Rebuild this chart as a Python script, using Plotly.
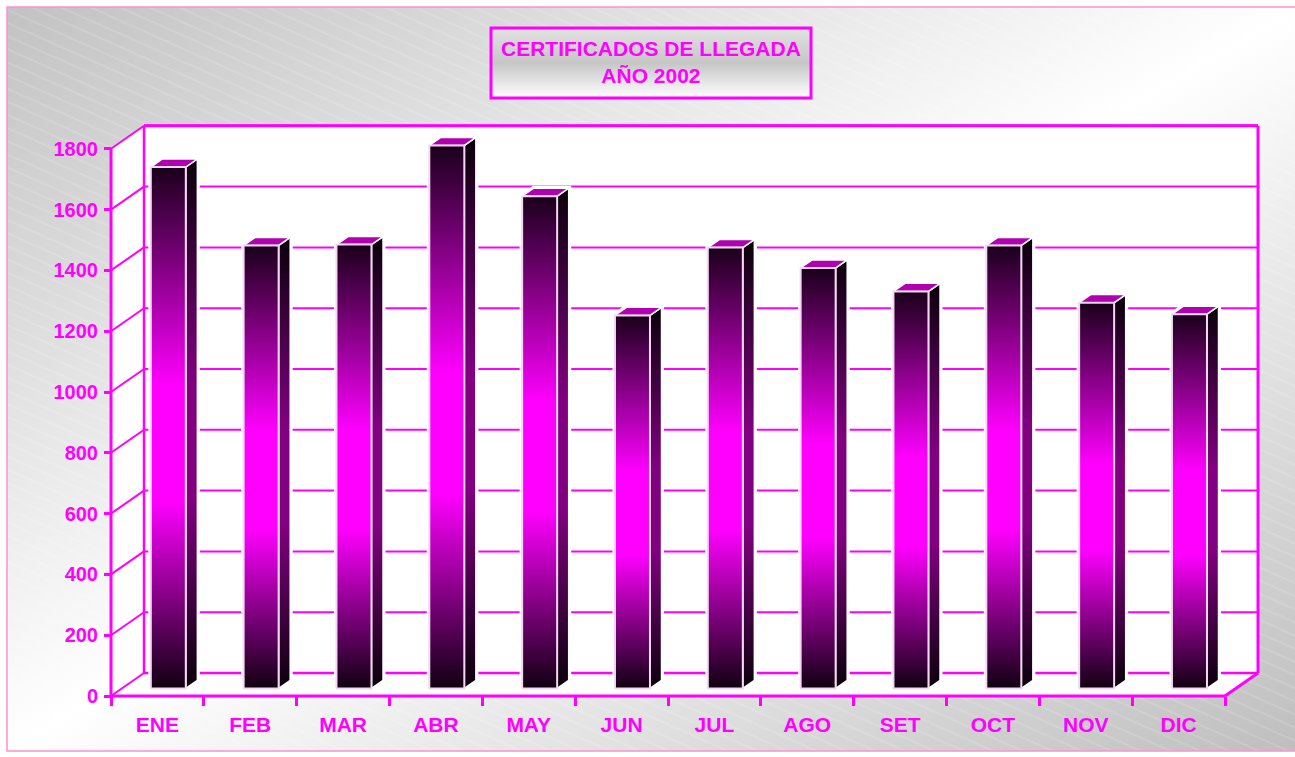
import base64
import plotly.graph_objects as go

# ---------------- data ----------------
months = ["ENE", "FEB", "MAR", "ABR", "MAY", "JUN", "JUL", "AGO", "SET", "OCT", "NOV", "DIC"]
values = [1715, 1457, 1460, 1786, 1619, 1227, 1450, 1383, 1306, 1457, 1269, 1231]
y_ticks = [0, 200, 400, 600, 800, 1000, 1200, 1400, 1600, 1800]
title_text = "CERTIFICADOS DE LLEGADA<br>AÑO 2002"

# ---------------- style / geometry ----------------
MAG = "#ff00ff"
W, H = 1295, 757
FONT = "Liberation Sans, Arial, sans-serif"

X0P, X12P = 111, 1225          # front-plane pixel x of category edges 0 and 12
Y0P, UY = 696, 0.304           # front-plane pixel y of value 0, px per unit
UX = (X12P - X0P) / 12.0
DX = 33 / UX                   # depth offset (x, data units)
DY = 23 / UY                   # depth offset (y, data units)
YTOP = y_ticks[-1]
NC = len(months)

PL, PR, PT, PB = 100, 1270, 112, 706   # plot area in pixels
xr = [(PL - X0P) / UX, (PR - X0P) / UX]
yr = [(Y0P - PB) / UY, (Y0P - PT) / UY]

def px(xp):
    return (xp - PL) / (PR - PL)

def py(yp):
    return (PB - yp) / (PB - PT)

# ---------------- background image (svg) ----------------
bg_svg = f'''<svg xmlns="http://www.w3.org/2000/svg" width="{W}" height="{H}" viewBox="0 0 {W} {H}" preserveAspectRatio="none">
<defs>
<linearGradient id="g" x1="0" y1="0" x2="1" y2="1">
<stop offset="0" stop-color="#c2c2c2"/>
<stop offset="0.5" stop-color="#ffffff"/>
<stop offset="1" stop-color="#bebebe"/>
</linearGradient>
<pattern id="p" patternUnits="userSpaceOnUse" width="200" height="12" patternTransform="rotate(24)">
<line x1="0" y1="6" x2="200" y2="6" stroke="#ffffff" stroke-opacity="0.3" stroke-width="0.8"/>
</pattern>
</defs>
<rect x="0" y="0" width="{W}" height="{H}" fill="#ffffff"/>
<rect x="7" y="7" width="{W}" height="{H - 13}" fill="url(#g)"/>
<rect x="7" y="7" width="{W}" height="{H - 13}" fill="url(#p)"/>
<rect x="7" y="7" width="{W + 10}" height="{H - 13}" fill="none" stroke="#ff8fd0" stroke-width="1.5"/>
</svg>'''
box_svg = '''<svg xmlns="http://www.w3.org/2000/svg" width="100" height="100" viewBox="0 0 100 100" preserveAspectRatio="none">
<defs><linearGradient id="b" x1="0" y1="0" x2="0" y2="1">
<stop offset="0" stop-color="#e2e2e2"/>
<stop offset="0.5" stop-color="#c6c6c6"/>
<stop offset="1" stop-color="#ffffff"/>
</linearGradient></defs>
<rect x="0" y="0" width="100" height="100" fill="url(#b)"/>
</svg>'''

def uri(s):
    return "data:image/svg+xml;base64," + base64.b64encode(s.encode("utf-8")).decode("ascii")

fig = go.Figure()

# ---------------- walls, grid, frame (shapes in data coords) ----------------
shapes = []
def poly(pts, fill, lw=0, lc=MAG):
    d = "M " + " L ".join(f"{x},{y}" for x, y in pts) + " Z"
    shapes.append(dict(type="path", path=d, xref="x", yref="y", fillcolor=fill,
                       line=dict(width=lw, color=lc), layer="below"))

def seg(x0, y0, x1, y1, w):
    shapes.append(dict(type="line", xref="x", yref="y", x0=x0, y0=y0, x1=x1, y1=y1,
                       line=dict(color=MAG, width=w), layer="below"))

poly([(0, 0), (DX, DY), (DX, YTOP + DY), (0, YTOP)], "#ffffff")
poly([(DX, DY), (NC + DX, DY), (NC + DX, YTOP + DY), (DX, YTOP + DY)], "#ffffff")
poly([(0, 0), (NC, 0), (NC + DX, DY), (DX, DY)], "#ffffff")
for v in y_ticks:
    seg(DX, v + DY, NC + DX, v + DY, 2.5 if v in (y_ticks[0], y_ticks[-1]) else 2)
    seg(0, v, DX, v + DY, 2)
seg(0, 0, 0, YTOP, 3)
seg(DX, DY, DX, YTOP + DY, 2.5)
seg(NC + DX, DY, NC + DX, YTOP + DY, 3)
seg(0, 0, NC, 0, 3)
seg(NC, 0, NC + DX, DY, 3)
seg(DX, YTOP + DY, NC + DX, YTOP + DY, 3)

# title box
shapes.append(dict(type="rect", xref="paper", yref="paper", x0=px(491), x1=px(811),
                   y0=py(98), y1=py(28), line=dict(color=MAG, width=3), layer="above"))

# ---------------- bars (pseudo-3D) ----------------
BF = 0.33                 # depth of bar front face
BD = 0.35                 # bar depth
HW = 17.5 / UX            # half width of bar front
ddx, ddy = BD * DX, BD * DY
front_cs = [[0, "#100010"], [0.36, "#ff00ff"], [0.58, "#ff00ff"], [1, "#1a001a"]]
side_cs = [[0, "#0a000a"], [0.36, "#800080"], [0.58, "#800080"], [1, "#0a000a"]]

def add_poly(pts, **kw):
    xs = [p[0] for p in pts] + [pts[0][0]]
    ys = [p[1] for p in pts] + [pts[0][1]]
    fig.add_trace(go.Scatter(x=xs, y=ys, mode="lines", fill="toself",
                             hoverinfo="skip", showlegend=False, **kw))

for i, v in enumerate(values):
    c = i + 0.5
    x0 = c - HW + BF * DX
    x1 = c + HW + BF * DX
    y0 = BF * DY
    y1 = v + BF * DY
    # white halo around silhouette
    add_poly([(x0, y0), (x1, y0), (x1 + ddx, y0 + ddy), (x1 + ddx, y1 + ddy),
              (x0 + ddx, y1 + ddy), (x0, y1)],
             fillcolor="#ffffff", line=dict(color="#ffffff", width=5))
    # side face
    add_poly([(x1, y0), (x1 + ddx, y0 + ddy), (x1 + ddx, y1 + ddy), (x1, y1)],
             fillgradient=dict(type="vertical", colorscale=side_cs),
             line=dict(color="#ffffff", width=1.5))
    # top face
    add_poly([(x0, y1), (x1, y1), (x1 + ddx, y1 + ddy), (x0 + ddx, y1 + ddy)],
             fillcolor="#b000b0", line=dict(color="#ffffff", width=1.5))
    # front face
    add_poly([(x0, y0), (x1, y0), (x1, y1), (x0, y1)],
             fillgradient=dict(type="vertical", colorscale=front_cs),
             line=dict(color="#f2d8f2", width=2))

# dummy trace for the boundary-tick axis
fig.add_trace(go.Scatter(x=[0], y=[0], xaxis="x2", yaxis="y", mode="markers",
                         marker=dict(opacity=0), hoverinfo="skip", showlegend=False))

tickfont_y = dict(family=FONT, size=20, color=MAG, weight="bold")
tickfont_x = dict(family=FONT, size=21, color=MAG, weight="bold")

fig.update_layout(
    width=W, height=H,
    margin=dict(l=PL, r=W - PR, t=PT, b=H - PB, pad=0),
    paper_bgcolor="#ffffff",
    plot_bgcolor="rgba(0,0,0,0)",
    showlegend=False,
    hovermode=False,
    shapes=shapes,
    images=[
        dict(source=uri(bg_svg), xref="paper", yref="paper",
             x=-PL / (PR - PL), y=1 + PT / (PB - PT),
             sizex=W / (PR - PL), sizey=H / (PB - PT),
             xanchor="left", yanchor="top", sizing="stretch", layer="below"),
        dict(source=uri(box_svg), xref="paper", yref="paper",
             x=px(491), y=py(28), sizex=px(811) - px(491), sizey=py(28) - py(98),
             xanchor="left", yanchor="top", sizing="stretch", layer="below"),
    ],
    annotations=[dict(text=title_text, xref="paper", yref="paper",
                      x=px(651), y=py(62), xanchor="center", yanchor="middle",
                      showarrow=False, align="center",
                      font=dict(family=FONT, size=21, color=MAG, weight="bold"))],
    xaxis=dict(range=xr, anchor="free", position=py(Y0P), showgrid=False, zeroline=False,
               showline=False, tickmode="array", tickvals=[i + 0.5 for i in range(NC)],
               ticktext=months, ticks="", tickfont=tickfont_x, ticklabelstandoff=14),
    xaxis2=dict(range=xr, overlaying="x", anchor="free", position=py(Y0P), side="bottom",
                showgrid=False, zeroline=False, showline=False, tickmode="array",
                tickvals=list(range(NC + 1)), showticklabels=False, ticks="outside",
                ticklen=9, tickwidth=2.5, tickcolor=MAG),
    yaxis=dict(range=yr, anchor="free", position=px(X0P), showgrid=False, zeroline=False,
               showline=False, tickmode="array", tickvals=y_ticks, ticks="outside",
               ticklen=7, tickwidth=2.5, tickcolor=MAG, tickfont=tickfont_y,
               ticklabelstandoff=2),
)

fig.write_html("out.html", config={"displayModeBar": False},
               post_script="document.body.style.margin='0';")
